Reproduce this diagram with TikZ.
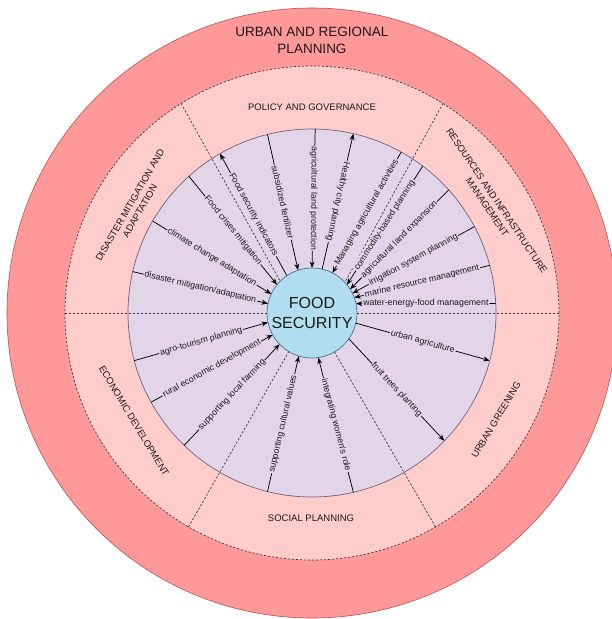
\documentclass[tikz,border=0pt]{standalone}
\usepackage{fontspec}
\setmainfont{Liberation Sans}
\usetikzlibrary{arrows.meta}

\definecolor{planfill}{HTML}{FF9999}
\definecolor{planline}{HTML}{B85450}
\definecolor{sectorfill}{HTML}{FFCCCC}
\definecolor{linkfill}{HTML}{E1D5E7}
\definecolor{linkline}{HTML}{6E6283}
\definecolor{corefill}{HTML}{B1DDF0}
\definecolor{coreline}{HTML}{4A7390}
\definecolor{ink}{HTML}{1A1A1A}

\begin{document}
\begin{tikzpicture}[x=1pt,y=1pt,
  ring/.style={circle,inner sep=0pt,outer sep=0pt},
  divider/.style={draw=ink!85,line width=0.7pt,dash pattern=on 2.2pt off 1.8pt},
  link/.style={draw=black,line width=0.75pt},
  inward/.style={link,-{Stealth[length=6.5pt,width=5pt]}},
  outward/.style={link,-{Stealth[length=6.5pt,width=5pt]}},
  lbl/.style={fill=linkfill,inner sep=1pt,text=ink,font=\fontsize{8.8}{10}\selectfont},
  along/.style={lbl,sloped},
  sector/.style={text=ink,align=center,font=\fontsize{9.5}{11.5}\selectfont}]

\useasboundingbox (-312,-306) rectangle (300,313);
\clip (-312,-306) rectangle (300,313);

% nested rings
\node[ring,fill=planfill,draw=planline,line width=0.6pt,minimum size=610pt] (plan) at (0,0) {};
\node[ring,fill=sectorfill,divider,minimum size=494pt] (sectors) at (0,0) {};
\node[ring,fill=linkfill,draw=linkline,line width=0.7pt,minimum size=368pt] (links) at (0,0) {};
\node[ring,fill=corefill,draw=coreline,line width=0.7pt,minimum size=90pt] (fs) at (0,0) {};
\node[align=center,text=ink,font=\fontsize{16}{20}\selectfont] (fstext) at (0,0) {FOOD\\SECURITY};

% sector dividers
\draw[divider] (sectors.122.3) -- (fs.135);
\draw[divider] (sectors.58.4) -- (fs.43);
\draw[divider] (sectors.180) -- (fs.180);
\draw[divider] (sectors.0) -- (fs.0);
\draw[divider] (sectors.240) -- (fs.239.3);
\draw[divider] (sectors.300) -- (fs.300);

% titles
\node[text=ink,align=center,font=\fontsize{13.5}{17}\selectfont] (urp) at (0,272.5) {URBAN AND REGIONAL\\PLANNING};
\node[sector] (pol) at (0,206) {POLICY AND GOVERNANCE};
\node[sector] (soc) at (-1,-205) {SOCIAL PLANNING};
\node[sector,rotate=60] (dis) at (-177,105) {DISASTER MITIGATION AND\\ADAPTATION};
\node[sector,rotate=-56] (res) at (180,109) {RESOURCES AND INFRASTRUCTURE\\MANAGEMENT};
\node[sector,rotate=-59] (eco) at (-178,-108) {ECONOMIC DEVELOPMENT};
\node[sector,rotate=59] (grn) at (184,-107) {URBAN GREENING};

% disaster mitigation and adaptation
\draw[outward] (fs.124) -- node[along] {Food security indicators} (links.120.7);
\draw[inward] (links.132.4) -- node[along] {Food crises mitigation} (fs.141);
\draw[inward] (links.150.8) -- node[along] {climate change adaptation} (fs.155.6);
\draw[inward] (links.167.3) -- node[along] {disaster mitigation/adaptation} (fs.168.4);

% policy and governance
\draw[inward] (links.104.8) -- node[along] {subsidized fertilizer} (fs.108);
\draw[inward] (links.89.4) -- node[lbl,rotate=-90.5] {agricultural land protection} (fs.90);
\draw[outward] (fs.77.5) -- node[lbl,rotate=-102.5] {Healthy city planning} (links.77.5);
\draw[inward] (links.61.6) -- node[along] {Managing agricultural activities} (fs.63);

% resources and infrastructure management
\draw[inward] (links.53.4) -- node[along] {commodity-based planning} (fs.39);
\draw[inward] (links.42.2) -- node[along] {agricultural land expansion} (fs.32);
\draw[inward] (links.28.4) -- node[along] {irrigation system planning} (fs.26);
\draw[inward] (links.15.1) -- node[along] {marine resource management} (fs.20);
\draw[inward] (links.3.1) -- node[along] {water-energy-food management} (fs.12.8);

% urban greening
\draw[outward] (fs.-13) -- node[along] {urban agriculture} (links.-15.2);
\draw[outward] (fs.-35.4) -- node[along] {fruit trees planting} (links.-44.3);

% social planning
\draw[inward] (links.-77.2) -- node[along] {integrating women's role} (fs.-82.4);
\draw[inward] (links.-104.7) -- node[along] {supporting cultural values} (fs.-107.3);

% economic development
\draw[inward] (links.-134.3) -- node[along] {supporting local farming} (fs.-136.7);
\draw[inward] (links.-151.7) -- node[along] {rural economic development} (fs.-151.2);
\draw[inward] (links.-165.7) -- node[along] {agro-tourism planning} (fs.-168.7);

\end{tikzpicture}
\end{document}
